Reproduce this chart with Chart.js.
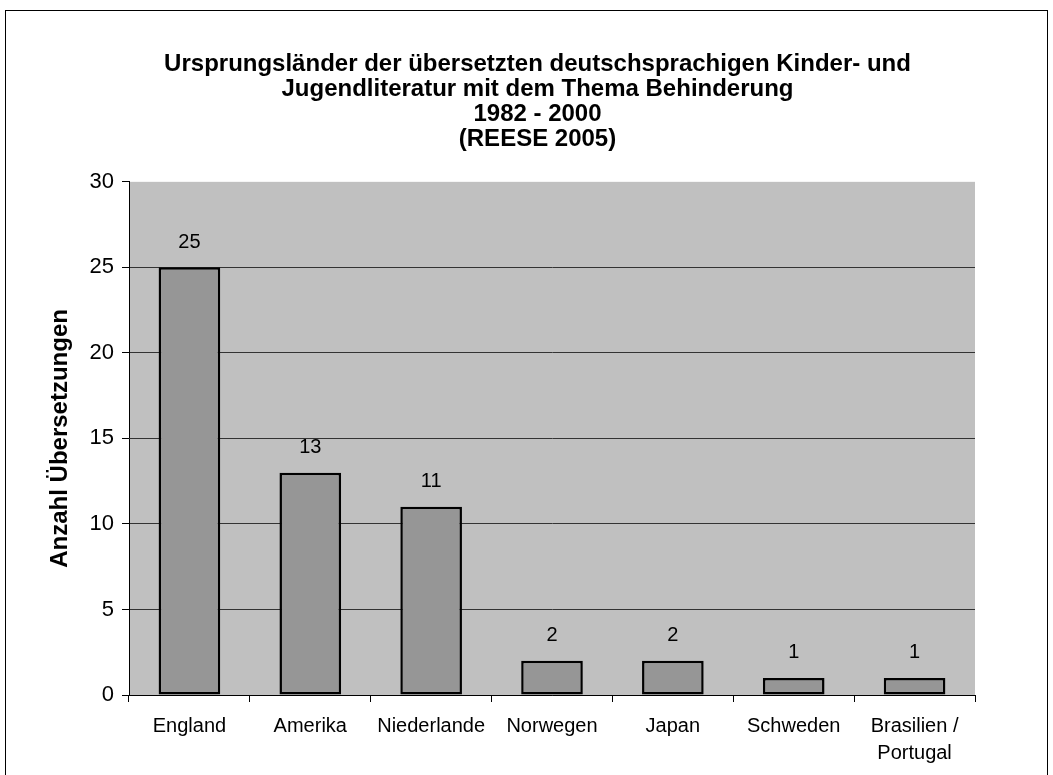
<!DOCTYPE html>
<html>
<head>
<meta charset="utf-8">
<script src="https://cdn.jsdelivr.net/npm/chart.js@4"></script>
<style>
  body { margin: 0; background: #fff; overflow: hidden; }
  #frame { position: absolute; left: 5px; top: 10px; width: 1041px; height: 780px; border: 1px solid #000; }
</style>
</head>
<body>
<div id="frame"><canvas id="myChart" width="1041" height="780"></canvas></div>
<script>
const laender = ['England', 'Amerika', 'Niederlande', 'Norwegen', 'Japan', 'Schweden', ['Brasilien /', 'Portugal']];
const anzahl = [25, 13, 11, 2, 2, 1, 1];
const yTicks = [0, 5, 10, 15, 20, 25, 30];

const FONT = '"Liberation Sans", Arial, sans-serif';

// grauer Hintergrund der Zeichenfläche
const plotBg = {
  id: 'plotBg',
  beforeDraw(chart) {
    const { ctx, chartArea: a } = chart;
    ctx.save();
    ctx.fillStyle = '#c0c0c0';
    ctx.fillRect(a.left, a.top, a.right - a.left, a.bottom - a.top);
    ctx.restore();
  }
};

// Werte über den Balken
const valueLabels = {
  id: 'valueLabels',
  afterDatasetsDraw(chart) {
    const { ctx } = chart;
    const meta = chart.getDatasetMeta(0);
    ctx.save();
    ctx.font = '20px ' + FONT;
    ctx.fillStyle = '#000';
    ctx.textAlign = 'center';
    ctx.textBaseline = 'middle';
    meta.data.forEach((bar, i) => {
      ctx.fillText(anzahl[i], bar.x, bar.y - 25);
    });
    ctx.restore();
  }
};

new Chart(document.getElementById('myChart'), {
  type: 'bar',
  data: {
    labels: laender,
    datasets: [{
      data: anzahl,
      backgroundColor: '#969696',
      borderColor: '#000',
      borderWidth: 2.5,
      borderSkipped: false,
      barPercentage: 0.51,
      categoryPercentage: 1
    }]
  },
  options: {
    responsive: false,
    animation: false,
    layout: { padding: { left: 22, right: 0, top: 0, bottom: 0 } },
    plugins: {
      legend: { display: false },
      tooltip: { enabled: false },
      title: {
        display: true,
        text: ['Ursprungsländer der übersetzten deutschsprachigen Kinder- und',
               'Jugendliteratur mit dem Thema Behinderung',
               '1982 - 2000',
               '(REESE 2005)'],
        color: '#000',
        font: { family: FONT, size: 24, weight: 'bold', lineHeight: 1.04 },
        padding: { top: 41, bottom: 30 }
      }
    },
    scales: {
      x: {
        grid: { offset: true, drawOnChartArea: false, color: '#000', tickLength: 7 },
        border: { color: '#000', width: 1 },
        ticks: { color: '#000', font: { family: FONT, size: 20, lineHeight: 1.35 }, padding: 11, maxRotation: 0 },
        afterFit(s) { s.height = 96; }
      },
      y: {
        min: 0,
        max: 30,
        afterBuildTicks(s) { s.ticks = yTicks.map(v => ({ value: v })); },
        grid: {
          color: c => (c.tick && c.tick.value === 30) ? 'rgba(0,0,0,0)' : '#333',
          tickColor: '#000',
          tickLength: 7
        },
        border: { color: '#000', width: 1 },
        ticks: { color: '#000', font: { family: FONT, size: 22 }, padding: 8 },
        title: {
          display: true,
          text: 'Anzahl Übersetzungen',
          color: '#000',
          font: { family: FONT, size: 24, weight: 'bold' },
          padding: { top: 18 }
        },
        afterFit(s) { s.width = 101; }
      },
      rand: {
        type: 'linear',
        position: 'right',
        grid: { display: false },
        border: { display: false },
        ticks: { display: false },
        afterFit(s) { s.width = 72; }
      }
    }
  },
  plugins: [plotBg, valueLabels]
});
</script>
</body>
</html>
